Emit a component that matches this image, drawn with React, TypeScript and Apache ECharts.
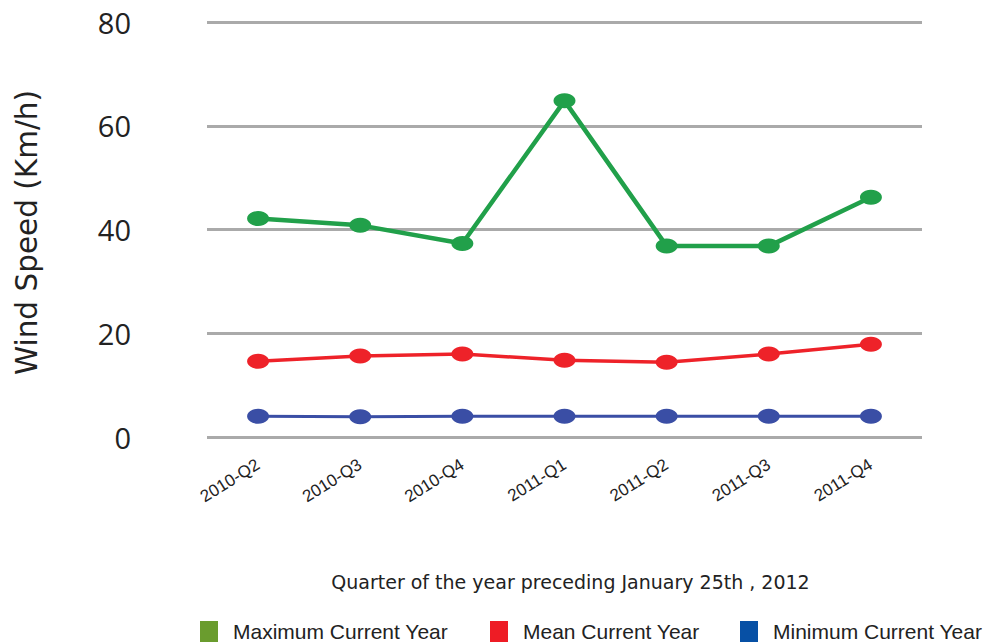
import React, { useEffect, useRef } from "react";
import * as echarts from "echarts";

const categories = ["2010-Q2", "2010-Q3", "2010-Q4", "2011-Q1", "2011-Q2", "2011-Q3", "2011-Q4"];
const maxValues = [42.1, 40.8, 37.3, 64.8, 36.8, 36.8, 46.2];
const meanValues = [14.6, 15.6, 16.0, 14.8, 14.4, 16.0, 17.9];
const minValues = [4.0, 3.9, 4.0, 4.0, 4.0, 4.0, 4.0];
const yTicks = { min: 0, max: 80, interval: 20 };

const seriesNames = ["Maximum Current Year", "Mean Current Year", "Minimum Current Year"];
const lineColors = ["#21a04a", "#ee2229", "#3a4ea5"];
const legendColors = ["#6a9c2e", "#ee1c25", "#0750a5"];

export default function App() {
  const ref = useRef<HTMLDivElement>(null);
  useEffect(() => {
    if (!ref.current) return;
    const chart = echarts.init(ref.current, null, { renderer: "svg" });
    const legendLefts = [195, 485, 735];
    const dataSets = [maxValues, meanValues, minValues];
    const widths = [4.5, 3.5, 3];
    chart.setOption({
      animation: false,
      backgroundColor: "#ffffff",
      grid: { left: 207, right: 63, top: 22, bottom: 207, containLabel: false },
      legend: seriesNames.map((n, i) => ({
        left: legendLefts[i],
        top: 616,
        icon: "rect",
        itemWidth: 18,
        itemHeight: 21,
        selectedMode: false,
        data: [{ name: n, itemStyle: { color: legendColors[i] } }],
        textStyle: {
          fontFamily: "Liberation Sans",
          fontSize: 21,
          color: "#222222",
          padding: [0, 0, 0, 10],
        },
      })),
      xAxis: {
        type: "category",
        data: categories,
        boundaryGap: true,
        axisLine: { show: false },
        axisTick: { show: false },
        axisLabel: {
          rotate: 32,
          margin: 26,
          fontFamily: "Liberation Sans",
          fontSize: 17,
          color: "#222222",
        },
        name: "Quarter of the year preceding January 25th , 2012",
        nameLocation: "middle",
        nameGap: 135,
        nameTextStyle: {
          fontFamily: "DejaVu Sans",
          fontSize: 19,
          color: "#222222",
          padding: [0, 0, 0, 12],
        },
      },
      yAxis: {
        type: "value",
        min: yTicks.min,
        max: yTicks.max,
        interval: yTicks.interval,
        axisLine: { show: false },
        axisTick: { show: false },
        splitLine: { lineStyle: { color: "#aaaaaa", width: 3 } },
        axisLabel: {
          margin: 76,
          fontFamily: "Open Sans",
          fontSize: 29,
          color: "#222222",
        },
        name: "Wind Speed (Km/h)",
        nameLocation: "middle",
        nameGap: 165,
        nameRotate: 90,
        nameTextStyle: { fontFamily: "DejaVu Sans", fontSize: 29.5, color: "#222222", padding: [0, 6, 0, 0] },
      },
      series: seriesNames.map((n, i) => ({
        name: n,
        type: "line",
        data: dataSets[i],
        symbol: "circle",
        symbolSize: [22, 15],
        itemStyle: { color: lineColors[i] },
        lineStyle: { color: lineColors[i], width: widths[i] },
      })),
    });
    return () => chart.dispose();
  }, []);
  return <div ref={ref} style={{ width: 985, height: 644, position: "absolute", left: 0, top: 0 }} />;
}
